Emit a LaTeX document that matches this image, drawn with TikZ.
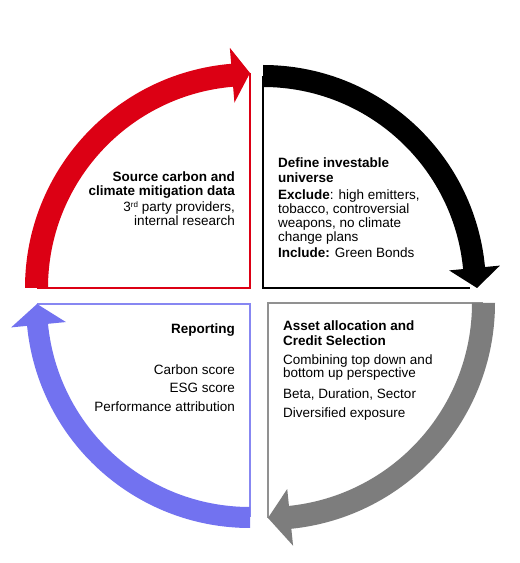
\documentclass[tikz,border=0pt]{standalone}
\usepackage{fontspec}
\setmainfont{Liberation Sans}
\definecolor{cred}{RGB}{220,0,20}
\definecolor{cblue}{RGB}{114,114,240}
\definecolor{cgray}{RGB}{125,125,125}
\newcommand\cycarrow[9]{%
  \fill[#1] (#2:#4) arc[start angle=#2,end angle=#3,radius=#4] -- (#3:#7) -- (#8:#9)
    -- (#3:#6) -- (#3:#5) arc[start angle=#3,end angle=#2,radius=#5] -- cycle;}
\begin{document}
\begin{tikzpicture}[x=1pt,y=1pt,
  txt/.style={inner sep=0pt,font=\fontsize{13.5}{15}\selectfont},
  lt/.style={txt,anchor=base west},
  rt/.style={txt,anchor=base east},
  edge/.style={line width=1.6pt}]
\useasboundingbox[fill=white] (0,0) rectangle (520,563);
\coordinate (c1) at (250,275);
\coordinate (c2) at (263,275);
\coordinate (c3) at (268,260);
\coordinate (c4) at (250,259);
% box edges
\begin{scope}[shift={(c1)}]
  \draw[edge,cred] (90:215) -- (0,0) -- (180:213);
  \cycarrow{cred}{180}{94.8}{225}{202}{186}{241}{90}{215}
\end{scope}
\begin{scope}[shift={(c2)}]
  \draw[edge,black] (90:212) -- (0,0) -- (0:207);
  \cycarrow{black}{90}{5.4}{223}{201}{187}{238}{0}{214}
\end{scope}
\begin{scope}[shift={(c3)}]
  \draw[edge,cgray!85] (0:215) -- (0,0) -- (-90:215);
  \cycarrow{cgray}{0}{-84.1}{227}{204}{187}{244}{-90}{215}
\end{scope}
\begin{scope}[shift={(c4)}]
  \draw[edge,cblue!85] (180:213) -- (0,0) -- (-90:213);
  \cycarrow{cblue}{-90}{-174.4}{224}{203}{185}{240}{180}{213}
\end{scope}
% red quadrant text
\node[rt] (r1) at (235,381.5) {\bfseries Source carbon and};
\node[rt] (r2) at (235,367) {\bfseries climate mitigation data};
\node[rt] (r3) at (235,351) {3{\fontsize{8}{8}\selectfont\raisebox{4.5pt}{rd}} party providers,};
\node[rt] (r4) at (235,337.5) {internal research};
% black quadrant text
\node[lt] (b1) at (278,395) {\bfseries Define investable};
\node[lt] (b2) at (278,380) {\bfseries universe};
\node[lt] (b3) at (278,363) {\textbf{Exclude}: high emitters,};
\node[lt] (b4) at (278,349) {tobacco, controversial};
\node[lt] (b5) at (278,335.5) {weapons, no climate};
\node[lt] (b6) at (278,321.5) {change plans};
\node[lt] (b7) at (278,305) {\textbf{Include:} Green Bonds};
% gray quadrant text
\node[lt] (g1) at (283,232.5) {\bfseries Asset allocation and};
\node[lt] (g2) at (283,217.5) {\bfseries Credit Selection};
\node[lt] (g3) at (283,198) {Combining top down and};
\node[lt] (g4) at (283,185) {bottom up perspective};
\node[lt] (g5) at (283,164) {Beta, Duration, Sector};
\node[lt] (g6) at (283,145) {Diversified exposure};
% blue quadrant text
\node[rt] (u1) at (235,229) {\bfseries Reporting};
\node[rt] (u2) at (235,188) {Carbon score};
\node[rt] (u3) at (235,170.5) {ESG score};
\node[rt] (u4) at (235,151.5) {Performance attribution};
\end{tikzpicture}
\end{document}
